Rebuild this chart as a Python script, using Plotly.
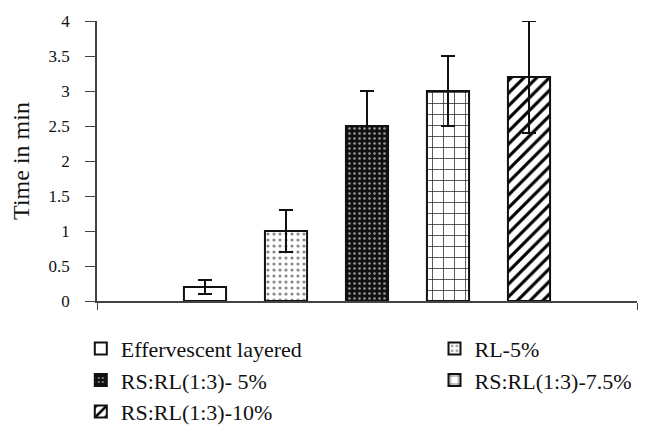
import plotly.graph_objects as go

# Disintegration / lag time of each formulation (minutes) with SD
formulations = [
    "Effervescent layered",
    "RL-5%",
    "RS:RL(1:3)- 5%",
    "RS:RL(1:3)-7.5%",
    "RS:RL(1:3)-10%",
]
time_min = [0.2, 1.0, 2.5, 3.0, 3.2]
time_sd = [0.1, 0.3, 0.5, 0.5, 0.8]

y_ticks = [0, 0.5, 1, 1.5, 2, 2.5, 3, 3.5, 4]
y_tick_labels = ["0", "0.5", "1", "1.5", "2", "2.5", "3", "3.5", "4"]

# fill style for each formulation: (pattern shape, background, foreground, size, solidity)
styles = [
    ("", "white", "black", 8, 0.3),
    (".", "white", "#888888", 6, 0.22),
    (".", "#111111", "#999999", 5, 0.2),
    ("+", "white", "#222222", 11, 0.13),
    ("/", "white", "#000000", 9, 0.35),
]
# legend column for each formulation (two-column key below the plot)
legend_column = ["legend", "legend2", "legend", "legend2", "legend"]

FONT = "Liberation Serif"

fig = go.Figure()
for name, val, sd, (shape, bg, fg, size, sol), lg in zip(
        formulations, time_min, time_sd, styles, legend_column):
    fig.add_trace(go.Bar(
        x=[0],
        y=[val],
        name=name,
        legend=lg,
        marker=dict(
            color=bg,
            line=dict(color="#111111", width=2),
            pattern=dict(shape=shape, bgcolor=bg, fgcolor=fg, fgopacity=1,
                         size=size, solidity=sol, fillmode="replace"),
        ),
        error_y=dict(type="data", array=[sd], visible=True,
                     color="#111111", thickness=2, width=7),
    ))

legend_common = dict(
    orientation="v",
    xanchor="left",
    y=-0.095,
    yanchor="top",
    font=dict(family=FONT, size=22, color="#111111"),
    traceorder="normal",
    tracegroupgap=0,
    bgcolor="rgba(0,0,0,0)",
)

fig.update_layout(
    width=657,
    height=439,
    barmode="group",
    bargap=0.25,
    bargroupgap=0.48,
    plot_bgcolor="white",
    paper_bgcolor="white",
    margin=dict(l=97, r=20, t=21, b=138, autoexpand=False),
    font=dict(family=FONT, color="#111111"),
    showlegend=True,
    legend=dict(x=-0.03, **legend_common),
    legend2=dict(x=0.625, **legend_common),
    xaxis=dict(
        range=[-0.5, 0.5],
        tickvals=[-0.5, 0.5],
        ticktext=["", ""],
        ticks="outside",
        ticklen=7,
        tickcolor="#444444",
        showline=True,
        linecolor="#444444",
        linewidth=1.5,
        showgrid=False,
        zeroline=False,
        fixedrange=True,
    ),
    yaxis=dict(
        range=[0, 4],
        tickvals=y_ticks,
        ticktext=y_tick_labels,
        ticks="outside",
        ticklen=10,
        tickcolor="#444444",
        ticklabelstandoff=12,
        showline=True,
        linecolor="#444444",
        linewidth=1.5,
        showgrid=False,
        zeroline=False,
        tickfont=dict(family=FONT, size=17, color="#111111"),
        title=dict(text="Time in min", font=dict(family=FONT, size=24, color="#111111"),
                   standoff=12),
    ),
)

fig.write_html("out.html")
